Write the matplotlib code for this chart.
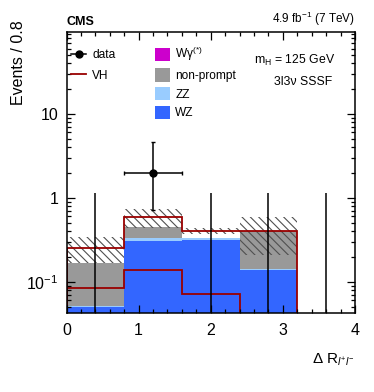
import numpy as np
import matplotlib
matplotlib.use('Agg')
import matplotlib.pyplot as plt
from matplotlib.lines import Line2D
from matplotlib.patches import Patch
from matplotlib.ticker import MultipleLocator, NullFormatter, LogLocator

plt.rcParams['font.family'] = ['Liberation Sans', 'DejaVu Sans']
plt.rcParams['mathtext.fontset'] = 'custom'
plt.rcParams['mathtext.rm'] = 'Liberation Sans'
plt.rcParams['mathtext.it'] = 'Liberation Sans:italic'
plt.rcParams['mathtext.bf'] = 'Liberation Sans:bold'
plt.rcParams['mathtext.default'] = 'regular'
plt.rcParams['hatch.linewidth'] = 0.8

# bin edges in Delta R(l+l-)
edges = np.array([0.0, 0.8, 1.6, 2.4, 3.2, 4.0])

# background stack (bottom -> top)
wz = np.array([0.049, 0.308, 0.313, 0.138, 0.0])
zz = np.array([0.002, 0.021, 0.016, 0.002, 0.0])
nonprompt = np.array([0.117, 0.115, 0.0, 0.261, 0.0])
wgamma = np.array([0.0, 0.0, 0.0, 0.0, 0.0])

# signal and uncertainty
vh = np.array([0.085, 0.14, 0.072, 0.0, 0.0])
syst = np.array([0.085, 0.143, 0.032, 0.19, 0.0])

# data with poisson errors
data = np.array([0, 2, 0, 0, 0])
data_lo = np.array([0.0, 1.29, 0.0, 0.0, 0.0])
data_hi = np.array([1.15, 2.64, 1.15, 1.15, 1.15])

c_wz = '#3366ff'
c_zz = '#99ccff'
c_np = '#999999'
c_wg = '#cc00cc'
c_vh = '#990000'

floor = 1e-3
centers = 0.5 * (edges[1:] + edges[:-1])
halfw = 0.5 * np.diff(edges)

fig = plt.figure(figsize=(3.74, 3.92), dpi=100)
ax = fig.add_axes([0.178, 0.2003, 0.771, 0.7187])
ax.set_yscale('log')

bottom = np.full(len(wz), floor)
for vals, col in [(wz, c_wz), (zz, c_zz), (nonprompt, c_np), (wgamma, c_wg)]:
    top = bottom + vals
    ax.stairs(top, edges, baseline=bottom, fill=True, color=col, lw=0)
    bottom = top

bkg = wz + zz + nonprompt + wgamma
tot = bkg + vh

# uncertainty band
ax.stairs(np.maximum(tot + syst, floor), edges, baseline=np.maximum(tot - syst, floor),
          fill=True, facecolor='none', edgecolor='#505050', hatch='\\\\\\\\', lw=0)

# VH stacked on background and VH alone
ax.stairs(np.maximum(tot, floor), edges, baseline=floor, color=c_vh, lw=1.3)
ax.stairs(np.maximum(vh, floor), edges, baseline=floor, color=c_vh, lw=1.3)

# data
m = data > 0
ax.errorbar(centers[m], data[m], yerr=[data_lo[m], data_hi[m]], xerr=halfw[m],
            fmt='o', color='k', ms=5, lw=1.1, capsize=1.5, capthick=1.0)
ax.vlines(centers[~m], floor, data[~m] + data_hi[~m], color='k', lw=1.1)

ax.set_xlim(0, 4)
ax.set_ylim(0.042, 95)

ax.xaxis.set_major_locator(MultipleLocator(1))
ax.xaxis.set_minor_locator(MultipleLocator(0.2))
ax.set_yticks([0.1, 1, 10], ['10$^{-1}$', '1', '10'])
ax.yaxis.set_minor_locator(LogLocator(base=10, subs=np.arange(2, 10)))
ax.yaxis.set_minor_formatter(NullFormatter())
ax.tick_params(which='both', direction='in', top=True, right=True, width=0.9)
ax.tick_params(which='major', length=6, labelsize=11.5)
ax.tick_params(which='minor', length=3)
ax.tick_params(axis='x', which='major', pad=7)
ax.tick_params(axis='y', which='major', pad=6)
for s in ax.spines.values():
    s.set_linewidth(1.1)

ax.text(1.0, -0.165, r'$\Delta$ R$_{\mathit{l^{+}l^{-}}}$', transform=ax.transAxes,
        ha='right', va='center', fontsize=11)
ax.text(-0.165, 1.04, 'Events / 0.8', transform=ax.transAxes, rotation=90,
        ha='center', va='top', fontsize=11.5)

ax.text(0.0, 1.015, 'CMS', transform=ax.transAxes, fontsize=9, fontweight='bold',
        ha='left', va='bottom')
ax.text(1.0, 1.015, '4.9 fb$^{-1}$ (7 TeV)', transform=ax.transAxes, fontsize=8.5,
        ha='right', va='bottom')
ax.text(0.79, 0.897, 'm$_{H}$ = 125 GeV', transform=ax.transAxes, fontsize=8.8,
        ha='center', va='center')
ax.text(0.822, 0.82, '3l3ν SSSF', transform=ax.transAxes, fontsize=8.8,
        ha='center', va='center')

h1 = [Line2D([], [], color='k', marker='o', ms=5, lw=1.1),
      Line2D([], [], color=c_vh, lw=1.3)]
leg1 = ax.legend(h1, ['data', 'VH'], loc='upper left', bbox_to_anchor=(0.015, 0.938),
                 frameon=False, fontsize=8.6, handlelength=1.3, handletextpad=0.5,
                 labelspacing=0.7, borderpad=0, borderaxespad=0)
ax.add_artist(leg1)
h2 = [Patch(facecolor=c_wg), Patch(facecolor=c_np), Patch(facecolor=c_zz), Patch(facecolor=c_wz)]
ax.legend(h2, ['Wγ$^{(*)}$', 'non-prompt', 'ZZ', 'WZ'], loc='upper left',
          bbox_to_anchor=(0.305, 0.952), frameon=False, fontsize=8.6,
          handlelength=1.3, handleheight=1.3, handletextpad=0.45,
          labelspacing=0.42, borderpad=0, borderaxespad=0)

fig.savefig('out.png', dpi=100)
